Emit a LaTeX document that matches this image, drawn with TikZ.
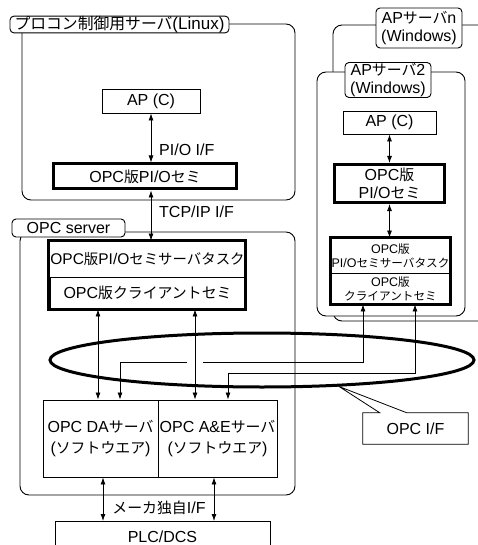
\documentclass[tikz,border=0pt]{standalone}
\usepackage{fontspec}
\setmainfont{Liberation Sans}
\newfontfamily\jp[Scale=0.93]{Noto Sans CJK JP}
\usepackage{tikz}
\usetikzlibrary{arrows.meta,positioning,calc,shapes.geometric}

\begin{document}
\begin{tikzpicture}[x=1pt, y=-1pt,
    box/.style={draw, line width=0.9pt, fill=white, inner sep=1pt,
                font=\fontsize{16}{18}\selectfont, align=center},
    heavy/.style={box, line width=3pt},
    tag/.style={box, rounded corners=4pt, inner ysep=0pt},
    lbl/.style={inner sep=1pt, font=\fontsize{16}{18}\selectfont},
    frame/.style={draw, line width=0.9pt, rounded corners=9pt, fill=white},
    arr/.style={-{Latex[length=7pt,width=5pt]}, line width=0.8pt},
    dbl/.style={{Latex[length=7pt,width=5pt]}-{Latex[length=7pt,width=5pt]}, line width=0.8pt},
  ]
  \useasboundingbox (0,0) rectangle (478,545);

  % AP servers (Windows), back one first
  \draw[frame] (333,25) rectangle (520,321);
  \node[tag, minimum width=86, minimum height=40] (lbln) at (419,28)
    {AP{\jp サーバ}n\\(Windows)};
  \draw[frame] (317,72) rectangle (465,316);
  \node[tag, minimum width=86, minimum height=35] (lbl2) at (388,80)
    {AP{\jp サーバ}2\\(Windows)};

  % Linux server
  \draw[frame] (22,24) rectangle (295,200);
  \node[tag, minimum width=219, minimum height=15, font=\fontsize{17}{18}\selectfont]
    (lbll) at (119.5,24.5) {{\jp プロコン制御用サーバ}(Linux)};
  \node[box, minimum width=98, minimum height=24] (lap) at (151,101) {AP (C)};
  \node[heavy, minimum width=183, minimum height=25] (lpio) at (145,176.5)
    {OPC{\jp 版}PI/O{\jp セミ}};

  % OPC server
  \draw[frame] (20,232) rectangle (295,495);
  \node[tag, minimum width=113, minimum height=18] (lblopc) at (68.5,228) {OPC server};
  \node[box, minimum width=195, minimum height=36, font=\fontsize{15.5}{18}\selectfont]
    (ltask) at (147.5,259) {OPC{\jp 版}PI/O{\jp セミサーバタスク}};
  \node[box, minimum width=195, minimum height=32] (lcli) at (147.5,293)
    {OPC{\jp 版クライアントセミ}};
  \draw[line width=3pt] (ltask.north west) rectangle (lcli.south east);
  \node[box, minimum width=115, minimum height=77, font=\fontsize{16}{21}\selectfont]
    (da) at (100.5,438.5) {OPC DA{\jp サーバ}\\({\jp ソフトウエア})};
  \node[box, minimum width=119, minimum height=77, font=\fontsize{16}{21}\selectfont]
    (ae) at (217.5,438.5) {OPC A\&E{\jp サーバ}\\({\jp ソフトウエア})};

  % right column
  \node[box, minimum width=93, minimum height=23] (rap) at (389.5,122.5) {AP (C)};
  \node[heavy, minimum width=110, minimum height=38] (rpio) at (389.5,183.5)
    {OPC{\jp 版}\\PI/O{\jp セミ}};
  \node[box, minimum width=119, minimum height=35, font=\fontsize{12.5}{14}\selectfont]
    (rtask) at (390.5,255.5) {OPC{\jp 版}\\PI/O{\jp セミサーバタスク}};
  \node[box, minimum width=119, minimum height=31, font=\fontsize{12.5}{14}\selectfont]
    (rcli) at (390.5,288.5) {OPC{\jp 版}\\{\jp クライアントセミ}};
  \draw[line width=3pt] (rtask.north west) rectangle (rcli.south east);

  % PLC
  \node[box, minimum width=215, minimum height=30, anchor=north] (plc) at (162.5,521) {PLC/DCS};

  % interfaces
  \draw[dbl] (lap.south) -- (lap.south |- lpio.north);
  \node[lbl, anchor=west] (pif) at (158,150) {PI/O I/F};
  \draw[dbl] (lpio.south -| lap.south) -- (lap.south |- ltask.north);
  \node[lbl, anchor=west] (tcpif) at (158,212) {TCP/IP I/F};
  \draw[dbl] (rap.south) -- (rap.south |- rpio.north);
  \draw[dbl] (rpio.south) -- (rpio.south |- rtask.north);

  \coordinate (c1) at (98,0);
  \coordinate (c2) at (195,0);
  \coordinate (r1) at (363,362);
  \coordinate (k1) at (203,362);
  \coordinate (k2) at (187,362);
  \coordinate (d1) at (120,362);
  \coordinate (r2) at (415,373);
  \coordinate (d2) at (228,373);
  \draw[dbl] (lcli.south -| c1) -- (da.north -| c1);
  \draw[dbl] (lcli.south -| c2) -- (ae.north -| c2);
  \draw[arr] (k1) -- (r1) -- (rcli.south -| r1);
  \draw[arr] (k2) -- (d1) -- (da.north -| d1);
  \draw[dbl] (rcli.south -| r2) -- (r2) -- (d2) -- (ae.north -| d2);

  \coordinate (m1) at (103,0);
  \coordinate (m2) at (214,0);
  \draw[dbl] (da.south -| m1) -- (plc.north -| m1);
  \draw[dbl] (ae.south -| m2) -- (plc.north -| m2);
  \node[lbl] (mkif) at (159,508) {{\jp メーカ独自}I/F};

  % OPC I/F bus
  \node[ellipse, draw, line width=3pt, minimum width=424, minimum height=54, inner sep=0pt]
    (bus) at (262,360) {};
  \node[lbl, minimum width=105, minimum height=31] (opcif) at (415.5,428.5) {OPC I/F};
  \draw[line width=0.8pt] ($(opcif.north west)+(17,0)$) -- (bus.-19)
    -- ($(opcif.north west)+(44,0)$) -- (opcif.north east) -- (opcif.south east)
    -- (opcif.south west) -- (opcif.north west) -- cycle;
\end{tikzpicture}
\end{document}
